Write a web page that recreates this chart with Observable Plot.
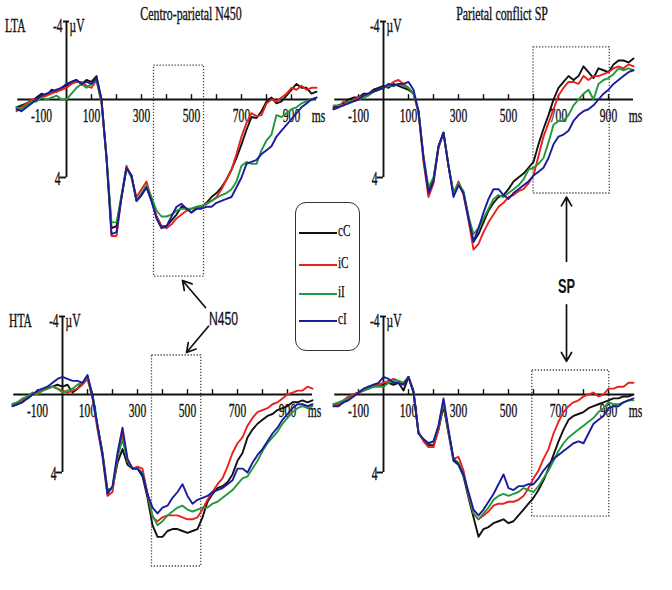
<!DOCTYPE html>
<html><head><meta charset="utf-8">
<script src="https://cdn.jsdelivr.net/npm/d3@7"></script>
<script src="https://cdn.jsdelivr.net/npm/@observablehq/plot@0.6"></script>
<style>
body{margin:0;background:#fff;}
#wrap{position:relative;width:672px;height:590px;overflow:hidden;background:#fff;font-family:"Liberation Serif",serif;color:#111;}
.panel{position:absolute;width:336px;height:295px;}
.panel svg{overflow:visible;}
.title{position:absolute;top:4px;font-size:18px;line-height:20px;white-space:nowrap;transform:translateX(-50%) scaleX(0.66);-webkit-text-stroke:0.35px #111;}
#legend{position:absolute;left:295px;top:202px;width:65px;height:149px;border:1.3px solid #333;border-radius:11px;box-sizing:border-box;}
.lg{position:absolute;left:3px;width:38px;height:0;border-top:2px solid;}
.lt{position:absolute;left:42px;font-size:16px;line-height:16px;transform:scaleX(0.7);transform-origin:left center;-webkit-text-stroke:0.25px #111;}
</style></head>
<body><div id="wrap"></div>
<script>
// ---- data (µV, positive plotted downward), sampled every 20 ms from -200 to 1000 ms ----
const times = d3.range(-200, 1001, 20);
const conds = ["cC", "iC", "iI", "cI"];
const colors = ["#111111", "#e8221e", "#22993a", "#1c1c9c"];
const tickTimes = [-100, 100, 200, 300, 400, 500, 600, 700, 800, 900];
const tickLabels = [-100, 100, 300, 500, 700, 900];

// LTA – Centro-parietal N450
const tl_cC = [0.4,0.3,0.2,0.1,-0.1,-0.3,-0.2,-0.5,-0.4,-0.6, -0.7,-0.9,-1.0,-0.8,-1.0,-0.9,-1.2,0.0,3.0,6.6, 6.5,5.0,3.5,3.9,5.2,4.9,4.5,5.2,6.0,6.5, 6.5,6.2,5.9,5.5,5.6,5.8,5.6,5.5,5.3,5.0, 4.8,4.5,4.1,3.6,3.0,2.3,1.55,0.9,0.95,0.6, 0.1,-0.1,0.2,0.1,-0.2,-0.5,-0.8,-0.6,-0.6,-0.3, -0.4];
const tl_iC = [0.6,0.4,0.2,0.0,0.0,-0.1,-0.2,-0.3,-0.4,-0.5, -0.6,-0.8,-0.9,-0.9,-0.7,-0.6,-1.0,0.2,3.0,7.0, 7.0,5.0,3.4,4.0,5.0,4.6,4.2,5.1,6.0,6.5, 6.6,6.4,6.1,5.9,5.7,5.6,5.55,5.5,5.35,5.2, 5.0,4.6,4.1,3.6,2.8,1.9,1.2,0.7,0.85,0.8, 0.2,0.0,0.1,-0.1,-0.3,-0.6,-0.5,-0.7,-0.5,-0.6, -0.6];
const tl_iI = [0.4,0.5,0.3,0.1,0.1,-0.1,0.0,-0.1,-0.2,0.0, 0.0,-0.3,-0.6,-0.8,-0.6,-0.8,-1.0,0.1,2.9,6.3, 6.3,4.9,3.5,4.0,5.2,4.8,4.4,5.0,5.7,6.0, 6.0,5.9,5.7,5.6,5.6,5.6,5.5,5.45,5.35,5.2, 5.05,4.9,4.8,4.6,4.2,3.4,3.2,3.3,3.3,2.6, 2.1,1.8,0.8,0.9,0.7,0.5,0.4,0.2,0.1,0.0, -0.1];
const tl_cI = [0.5,0.6,0.4,0.2,0.0,-0.2,-0.3,-0.4,-0.5,-0.6, -0.8,-0.9,-1.0,-0.8,-0.9,-0.8,-1.1,0.0,3.0,6.9, 6.8,5.0,3.5,3.9,5.2,4.9,4.5,5.2,6.1,6.6, 6.5,6.0,5.5,5.35,5.6,5.8,5.6,5.6,5.5,5.5, 5.3,5.2,5.1,5.0,4.5,4.0,3.3,3.2,3.1,2.8, 2.6,2.4,1.9,1.6,1.3,1.0,0.7,0.4,0.2,0.0, -0.1];

// LTA – Parietal conflict SP
const tr_cC = [0.4,0.3,0.2,0.0,-0.1,-0.1,-0.3,-0.3,-0.5,-0.6, -0.7,-0.6,-0.8,-0.7,-0.6,-0.5,-0.3,0.6,3.0,4.7, 4.1,2.4,1.7,3.4,4.8,4.3,4.8,6.0,7.3,6.9, 6.3,5.7,5.3,5.0,4.9,4.6,4.2,4.0,3.8,3.5, 3.2,2.3,1.5,0.8,0.0,-0.6,-0.9,-1.2,-1.0,-1.2, -1.7,-1.4,-1.1,-1.6,-1.5,-1.4,-1.8,-2.0,-2.0,-1.9, -2.1];
const tr_iC = [0.5,0.4,0.1,0.2,0.0,-0.1,-0.2,-0.3,-0.4,-0.5, -0.6,-0.7,-0.9,-1.0,-0.8,-0.6,-0.3,0.7,3.2,5.0, 4.3,2.5,1.7,3.4,4.9,4.2,4.9,6.2,7.7,7.4, 6.8,6.3,5.9,5.5,5.3,5.0,4.9,4.7,4.6,4.3, 3.9,2.9,1.9,1.2,0.5,-0.2,-0.6,-0.9,-0.9,-0.8, -1.2,-1.0,-1.2,-1.2,-1.3,-1.4,-1.6,-1.7,-1.6,-1.8, -1.7];
const tr_iI = [0.3,0.3,0.3,0.1,0.1,0.0,-0.1,-0.2,-0.4,-0.5, -0.6,-0.7,-0.7,-0.8,-0.7,-0.6,-0.3,0.6,2.9,4.5, 4.0,2.4,1.7,3.4,4.8,4.3,4.7,6.0,6.9,6.6, 6.1,5.6,5.1,4.9,5.0,4.8,4.6,4.4,4.1,3.6, 3.5,3.3,3.0,2.2,1.3,1.1,1.1,0.8,0.3,0.0, -0.3,-0.5,0.0,-0.8,-1.0,-1.1,-1.3,-1.6,-1.5,-1.6, -1.5];
const tr_cI = [0.5,0.4,0.3,0.2,0.1,0.0,-0.2,-0.3,-0.4,-0.5, -0.6,-0.8,-0.7,-0.8,-0.8,-0.9,-0.5,0.6,3.0,4.8, 4.2,2.4,1.7,3.4,5.0,4.4,4.8,6.1,7.3,6.6, 5.8,5.1,4.6,4.6,4.9,5.1,4.8,4.6,4.4,4.2, 3.9,3.7,3.5,3.0,2.3,1.9,1.8,1.6,1.1,0.8, 0.6,0.5,0.3,0.0,-0.3,-0.5,-0.8,-1.0,-1.2,-1.4, -1.5];

// HTA – Centro-parietal N450
const bl_cC = [0.5,0.4,0.3,0.2,0.0,-0.1,-0.2,-0.3,-0.4,-0.5, -0.4,-0.5,-0.1,-0.3,-0.6,-0.9,0.0,1.6,3.0,4.9, 4.8,3.5,2.8,3.6,3.8,3.8,4.2,5.3,6.7,7.3, 7.3,7.0,6.9,6.9,7.0,7.1,7.0,6.9,6.3,5.5, 5.1,4.8,4.7,4.5,4.1,3.4,3.0,2.2,1.8,1.5, 1.3,1.1,1.0,0.8,0.7,0.6,0.4,0.4,0.3,0.4, 0.3];
const bl_iC = [0.6,0.5,0.3,0.1,0.0,-0.1,-0.2,-0.4,-0.4,-0.3, -0.2,-0.1,-0.2,-0.3,-0.5,-0.8,0.2,1.8,3.2,5.2, 5.0,3.2,2.0,3.4,3.8,3.7,3.8,5.1,6.3,6.5, 6.3,6.2,6.2,6.2,6.3,6.4,6.4,6.3,5.9,5.4, 5.0,4.6,4.3,3.7,3.0,2.5,2.2,1.6,1.2,0.9, 0.8,0.7,0.5,0.4,0.2,0.0,-0.1,-0.2,-0.2,-0.4, -0.3];
const bl_iI = [0.5,0.4,0.2,0.1,-0.1,0.0,-0.2,-0.3,-0.4,-0.3, -0.1,-0.2,-0.3,-0.5,-0.6,-0.9,0.1,1.6,3.0,5.0, 4.8,3.2,2.3,3.4,3.8,3.8,4.0,5.1,6.2,6.7, 6.5,6.2,6.0,5.8,5.7,5.9,6.0,5.9,5.8,5.8, 5.6,5.5,5.3,5.1,4.9,4.6,4.3,4.2,3.8,3.4, 2.9,2.5,2.2,1.9,1.5,1.2,0.9,0.7,0.6,0.7, 0.6];
const bl_cI = [0.6,0.5,0.4,0.2,0.0,-0.2,-0.3,-0.4,-0.6,-0.8, -0.9,-0.8,-0.7,-0.7,-0.6,-1.0,0.1,1.6,3.1,5.1, 4.7,3.0,1.7,3.3,3.8,3.8,4.1,5.1,5.8,6.1, 5.8,5.7,5.3,5.0,4.6,5.2,5.6,5.4,5.3,5.2, 5.0,4.9,4.8,4.6,4.4,3.8,3.8,4.0,3.5,3.1, 2.8,2.4,2.0,1.7,1.3,1.0,0.7,0.5,0.5,0.6, 0.5];

// HTA – Parietal conflict SP
const br_cC = [0.5,0.5,0.4,0.2,0.0,-0.1,-0.2,-0.3,-0.4,-0.5, -0.5,-0.6,-0.5,-0.6,-0.2,-0.9,-0.2,2.0,2.3,2.6, 2.6,1.8,0.6,2.0,3.4,3.6,4.2,5.3,6.3,7.3, 6.9,6.8,6.6,6.5,6.4,6.6,6.5,6.2,5.9,5.6, 5.3,4.9,4.4,3.8,3.1,2.4,1.8,1.3,1.1,1.0, 0.9,0.7,0.6,0.5,0.4,0.3,0.2,0.2,0.1,0.1, 0.0];
const br_iC = [0.6,0.5,0.3,0.1,0.0,-0.1,-0.2,-0.4,-0.4,-0.5, -0.6,-0.7,-0.8,-0.7,-0.6,-0.9,-0.1,1.9,2.4,2.7, 2.7,1.8,0.4,1.9,3.3,3.2,3.9,5.2,6.1,6.4, 6.2,6.0,5.7,5.6,5.6,5.5,5.5,5.4,5.2,4.8, 4.3,3.9,3.3,2.8,2.0,1.4,0.9,0.6,0.4,0.3, 0.1,0.0,-0.1,0.1,0.0,-0.3,-0.3,-0.4,-0.4,-0.6, -0.6];
const br_iI = [0.5,0.4,0.3,0.2,0.1,-0.1,-0.2,-0.3,-0.4,-0.4, -0.4,-0.6,-0.7,-0.7,-0.6,-0.9,-0.1,2.0,2.3,2.5, 2.4,1.6,0.4,1.9,3.3,3.5,4.1,5.1,6.1,6.4, 6.1,5.8,5.4,5.2,5.1,5.2,5.1,5.0,4.8,4.9, 5.0,4.7,4.3,3.9,3.4,2.9,2.5,2.2,2.0,1.8, 1.6,1.4,1.2,0.9,0.7,0.4,0.5,0.5,0.4,0.3, 0.3];
const br_cI = [0.6,0.6,0.4,0.3,0.1,-0.1,-0.3,-0.4,-0.5,-0.6, -0.9,-0.8,-0.6,-0.6,-0.5,-0.9,-0.1,2.0,2.3,2.5, 2.4,1.6,0.2,1.8,3.3,3.6,4.1,5.0,5.9,6.2, 5.9,5.5,5.1,4.6,4.1,4.8,4.9,4.7,4.7,4.6, 4.6,4.3,3.9,3.6,3.3,3.1,2.9,2.7,2.5,2.4, 2.5,2.0,1.5,1.3,1.1,0.7,0.6,0.6,0.4,0.3, 0.2];

// ---- layout ----
const panels = [
  {left: 0,   top: 0,   ox: 66, oy: 99, label: "LTA", labelX: -205, series: [tl_cC, tl_iC, tl_iI, tl_cI], box: [350, 550, -1.74, 9.08]},
  {left: 336, top: 0,   ox: 47, oy: 99, label: null,  series: [tr_cC, tr_iC, tr_iI, tr_cI], box: [600, 905, -2.67, 4.82]},
  {left: 0,   top: 295, ox: 62, oy: 99, label: "HTA", labelX: -168, series: [bl_cC, bl_iC, bl_iI, bl_cI], box: [358, 555, -2.0, 8.82]},
  {left: 336, top: 295, ox: 47, oy: 99, label: null,  series: [br_cC, br_iC, br_iI, br_cI], box: [595, 903, -1.23, 6.26]}
];
const PXMS = 0.25, PXUV = 19.5, SQ = 0.64;
const wrap = document.getElementById("wrap");
const serif = "Liberation Serif";

panels.forEach((p, pi) => {
  const rows = [];
  conds.forEach((c, ci) => p.series[ci].forEach((v, i) => { if (i < times.length) rows.push({t: times[i], v, c}); }));
  const txt = {fontFamily: serif, fontSize: 18, fill: "#111", stroke: "#111", strokeWidth: 0.35};
  const marks = [
    Plot.rect([p.box], {x1: d => d[0], x2: d => d[1], y1: d => d[2], y2: d => d[3], fill: "none", stroke: "#444", strokeWidth: 1.3, strokeDasharray: "1.3,1.7"}),
    Plot.text(tickLabels, {x: d => d, y: 0, dy: 17, text: d => String(d), ...txt}),
    Plot.text(["ms"], {x: 1008, y: 0, dy: 17, text: d => d, ...txt}),
    Plot.text(["-4"], {x: 0, y: -4, dx: -4, dy: 5, text: d => d, textAnchor: "end", ...txt}),
    Plot.text(["4"], {x: 0, y: 4, dx: -6, dy: 2, text: d => d, textAnchor: "end", ...txt}),
    Plot.text(["µV"], {x: 0, y: -4, dx: 3, dy: 5, text: d => d, textAnchor: "start", ...txt}),
    Plot.ruleY([0], {x1: -195, x2: 1000, stroke: "#111", strokeWidth: 1.9}),
    Plot.ruleX(tickTimes, {x: d => d, y1: 0, y2: -0.25, stroke: "#111", strokeWidth: 1.4}),
    Plot.ruleX([0], {y1: -4, y2: 4, stroke: "#111", strokeWidth: 1.9}),
    Plot.ruleY([-4], {x1: -12, x2: 12, stroke: "#111", strokeWidth: 1.9}),
    Plot.ruleY([4], {x1: -26, x2: 0, stroke: "#111", strokeWidth: 1.9}),
    Plot.line(rows, {x: "t", y: "v", z: "c", stroke: "c", strokeWidth: 1.9, curve: "linear"})
  ];
  if (p.label) marks.push(Plot.text([p.label], {x: p.labelX, y: -3.75, text: d => d, ...txt}));
  // annotations
  const arrowStyle = {x1: "x1", y1: "y1", x2: "x2", y2: "y2", stroke: "#111", strokeWidth: 1.7, headLength: 9};
  if (pi === 0) marks.push(Plot.arrow([{x1: 556, y1: 10.67, x2: 464, y2: 9.28}], arrowStyle));
  if (pi === 1) {
    marks.push(Plot.arrow([{x1: 732, y1: 8.3, x2: 732, y2: 5.0}], arrowStyle));
    marks.push(Plot.text(["SP"], {x: 732, y: 9.6, text: d => d, fontFamily: "Liberation Sans", fontWeight: "bold", fontSize: 20, fill: "#111"}));
  }
  if (pi === 2) {
    marks.push(Plot.arrow([{x1: 584, y1: -3.5, x2: 496, y2: -2.15}], arrowStyle));
    marks.push(Plot.text(["N450"], {x: 644, y: -3.9, text: d => d, fontFamily: "Liberation Sans", fontSize: 19, fill: "#111", stroke: "#111", strokeWidth: 0.3}));
  }
  if (pi === 3) marks.push(Plot.arrow([{x1: 732, y1: -4.6, x2: 732, y2: -1.7}], arrowStyle));

  const svg = Plot.plot({
    width: 336, height: 295,
    x: {domain: [0, 1000], range: [p.ox, p.ox + 1000 * PXMS], axis: null},
    y: {domain: [0, 4], range: [p.oy, p.oy + 4 * PXUV], axis: null},
    color: {domain: conds, range: colors},
    style: {background: "transparent", overflow: "visible"},
    marks
  });
  // condense the serif lettering horizontally, as in the source figure
  d3.select(svg).selectAll("text").each(function () {
    const tr = this.getAttribute("transform");
    if (tr) this.setAttribute("transform", tr + ` scale(${SQ},1)`);
    else {
      const x = +this.getAttribute("x") || 0, y = +this.getAttribute("y") || 0;
      this.setAttribute("transform", `translate(${x},${y}) scale(${SQ},1) translate(${-x},${-y})`);
    }
  });
  const div = document.createElement("div");
  div.className = "panel";
  div.style.left = p.left + "px";
  div.style.top = p.top + "px";
  div.appendChild(svg);
  wrap.appendChild(div);
});

// titles
[["Centro-parietal N450", 191], ["Parietal conflict SP", 502]].forEach(([t, x]) => {
  const d = document.createElement("div");
  d.className = "title"; d.textContent = t; d.style.left = x + "px";
  wrap.appendChild(d);
});

// legend
const lg = document.createElement("div");
lg.id = "legend";
const rowY = [30, 62, 91, 118];
conds.forEach((c, i) => {
  const l = document.createElement("div");
  l.className = "lg"; l.style.top = (rowY[i] - 1) + "px"; l.style.borderTopColor = colors[i];
  const t = document.createElement("div");
  t.className = "lt"; t.style.top = (rowY[i] - 10) + "px"; t.textContent = c;
  lg.appendChild(l); lg.appendChild(t);
});
wrap.appendChild(lg);
</script>
</body></html>
